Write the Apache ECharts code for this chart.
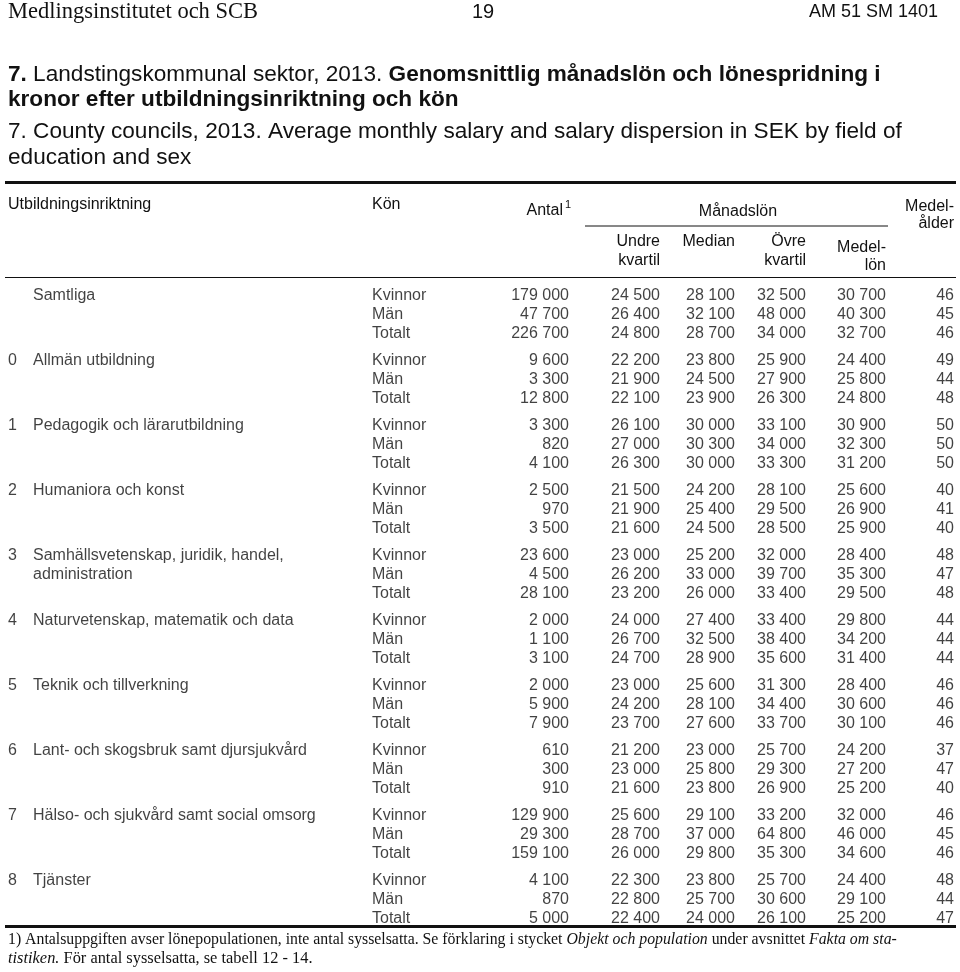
<!DOCTYPE html>
<html>
<head>
<meta charset="utf-8">
<script src="https://cdn.jsdelivr.net/npm/echarts@6/dist/echarts.min.js"></script>
<style>
html, body { margin: 0; padding: 0; background: #fff; }
#chart { width: 960px; height: 972px; }
</style>
</head>
<body>
<div id="chart"></div>
<script>
// ── Data ─────────────────────────────────────────────────────────
const FIELD_NO = ['', '0', '1', '2', '3', '4', '5', '6', '7', '8']
const FIELD_NAME = [
  'Samtliga',
  'Allmän utbildning',
  'Pedagogik och lärarutbildning',
  'Humaniora och konst',
  'Samhällsvetenskap, juridik, handel,\nadministration',
  'Naturvetenskap, matematik och data',
  'Teknik och tillverkning',
  'Lant- och skogsbruk samt djursjukvård',
  'Hälso- och sjukvård samt social omsorg',
  'Tjänster',
]
const SEX = ['Kvinnor', 'Män', 'Totalt']

// one value per row: Kvinnor, Män, Totalt for each field in order
const ANTAL = [
  179000, 47700, 226700,  9600, 3300, 12800,  3300, 820, 4100,  2500, 970, 3500,
  23600, 4500, 28100,  2000, 1100, 3100,  2000, 5900, 7900,  610, 300, 910,
  129900, 29300, 159100,  4100, 870, 5000,
]
const UNDRE = [
  24500, 26400, 24800,  22200, 21900, 22100,  26100, 27000, 26300,  21500, 21900, 21600,
  23000, 26200, 23200,  24000, 26700, 24700,  23000, 24200, 23700,  21200, 23000, 21600,
  25600, 28700, 26000,  22300, 22800, 22400,
]
const MEDIAN = [
  28100, 32100, 28700,  23800, 24500, 23900,  30000, 30300, 30000,  24200, 25400, 24500,
  25200, 33000, 26000,  27400, 32500, 28900,  25600, 28100, 27600,  23000, 25800, 23800,
  29100, 37000, 29800,  23800, 25700, 24000,
]
const OVRE = [
  32500, 48000, 34000,  25900, 27900, 26300,  33100, 34000, 33300,  28100, 29500, 28500,
  32000, 39700, 33400,  33400, 38400, 35600,  31300, 34400, 33700,  25700, 29300, 26900,
  33200, 64800, 35300,  25700, 30600, 26100,
]
const MEDELLON = [
  30700, 40300, 32700,  24400, 25800, 24800,  30900, 32300, 31200,  25600, 26900, 25900,
  28400, 35300, 29500,  29800, 34200, 31400,  28400, 30600, 30100,  24200, 27200, 25200,
  32000, 46000, 34600,  24400, 29100, 25200,
]
const ALDER = [
  46, 45, 46,  49, 44, 48,  50, 50, 50,  40, 41, 40,
  48, 47, 48,  44, 44, 44,  46, 46, 46,  37, 47, 40,
  46, 45, 46,  48, 44, 47,
]

// ── Layout ───────────────────────────────────────────────────────
const SANS  = '"Liberation Sans", Arial, sans-serif'
const SERIF = '"Liberation Serif", "Times New Roman", serif'
const INK   = '#111'
const CELL_FONT = 16

const TOP_Y       = 296
const GROUP_PITCH = 65
const LINE_STEP   = 19

// anchor of each column (left edge for text, right edge for numbers)
const X_NO = 8, X_NAME = 33, X_SEX = 372
const X_ANTAL = 569, X_UNDRE = 660, X_MEDIAN = 735, X_OVRE = 806, X_MEDELLON = 886, X_ALDER = 954

const rowY = (g, line) => TOP_Y + g * GROUP_PITCH + line * LINE_STEP
const fmt  = v => String(v).replace(/\B(?=(\d{3})+(?!\d))/g, ' ')

function cellSeries(x, texts, ys, alignRight, extraLabel) {
  return {
    type: 'scatter',
    silent: true,
    symbolSize: 0,
    animation: false,
    data: texts.map((t, k) => ({ value: [x, ys[k]], label: { formatter: t } })),
    label: Object.assign({
      show: true,
      position: alignRight ? 'left' : 'right',
      distance: 0,
      color: INK,
      fontFamily: SANS,
      fontSize: CELL_FONT,
    }, extraLabel || {}),
  }
}

const allRows = []
for (let g = 0; g < FIELD_NAME.length; g++) for (let l = 0; l < 3; l++) allRows.push(rowY(g, l))
const groupRows = FIELD_NAME.map((_, g) => rowY(g, 0))

const series = [
  cellSeries(X_NO, FIELD_NO, groupRows, false),
  cellSeries(X_NAME, FIELD_NAME, groupRows, false, {
    verticalAlign: 'top', offset: [0, -LINE_STEP / 2], lineHeight: LINE_STEP,
  }),
  cellSeries(X_SEX, allRows.map((_, i) => SEX[i % 3]), allRows, false),
  cellSeries(X_ANTAL, ANTAL.map(fmt), allRows, true),
  cellSeries(X_UNDRE, UNDRE.map(fmt), allRows, true),
  cellSeries(X_MEDIAN, MEDIAN.map(fmt), allRows, true),
  cellSeries(X_OVRE, OVRE.map(fmt), allRows, true),
  cellSeries(X_MEDELLON, MEDELLON.map(fmt), allRows, true),
  cellSeries(X_ALDER, ALDER.map(String), allRows, true),
]

// ── Static text and rules ────────────────────────────────────────
const txt = (x, y, text, opt) => ({
  type: 'text', x, y, silent: true,
  style: Object.assign({
    text, fill: INK, fontFamily: SANS, fontSize: CELL_FONT,
    align: 'left', verticalAlign: 'middle',
  }, opt || {}),
})
const rule = (x1, y, x2, w) => ({
  type: 'line', silent: true,
  shape: { x1, y1: y, x2, y2: y },
  style: { stroke: INK, lineWidth: w },
})

const TITLE_SIZE = 22.6
const titleRich = {
  b: { fontWeight: 'bold', fontFamily: SANS, fontSize: TITLE_SIZE, fill: INK },
  r: { fontFamily: SANS, fontSize: TITLE_SIZE, fill: INK },
}
const noteRich = (size) => ({
  r: { fontFamily: SERIF, fontSize: size, fill: INK },
  i: { fontFamily: SERIF, fontSize: size, fill: INK, fontStyle: 'italic' },
})

const graphic = [
  // page header
  txt(8, 12, 'Medlingsinstitutet och SCB', { fontFamily: SERIF, fontSize: 22.5 }),
  txt(483, 12, '19', { fontSize: 20, align: 'center' }),
  txt(938, 12, 'AM 51 SM 1401', { fontSize: 18, align: 'right' }),

  // titles
  txt(8, 75, '{b|7.}{r| Landstingskommunal sektor, 2013. }{b|Genomsnittlig månadslön och lönespridning i}',
    { rich: titleRich, fontSize: TITLE_SIZE }),
  txt(8, 100, 'kronor efter utbildningsinriktning och kön',
    { fontWeight: 'bold', fontSize: TITLE_SIZE }),
  txt(8, 132, '7. County councils, 2013. Average monthly salary and salary dispersion in SEK by field of',
    { fontSize: TITLE_SIZE }),
  txt(8, 158, 'education and sex', { fontSize: TITLE_SIZE }),

  // table header
  rule(5, 182.5, 956, 3),
  txt(8, 205, 'Utbildningsinriktning'),
  txt(372, 205, 'Kön'),
  txt(563, 211, 'Antal', { align: 'right' }),
  txt(565, 205, '1', { fontSize: 11 }),
  txt(738, 212, 'Månadslön', { align: 'center' }),
  rule(585, 226, 888, 1),
  txt(954, 207, 'Medel-', { align: 'right' }),
  txt(954, 224, 'ålder', { align: 'right' }),
  txt(660, 242, 'Undre', { align: 'right' }),
  txt(660, 261, 'kvartil', { align: 'right' }),
  txt(735, 242, 'Median', { align: 'right' }),
  txt(806, 242, 'Övre', { align: 'right' }),
  txt(806, 261, 'kvartil', { align: 'right' }),
  txt(886, 248, 'Medel-', { align: 'right' }),
  txt(886, 266, 'lön', { align: 'right' }),
  rule(5, 277.5, 956, 1.2),

  // bottom rule and footnote
  rule(5, 926.5, 956, 3),
  txt(8, 940, '{r|1) Antalsuppgiften avser lönepopulationen, inte antal sysselsatta. Se förklaring i stycket }{i|Objekt och population}{r| under avsnittet }{i|Fakta om sta-}',
    { rich: noteRich(15.8), fontFamily: SERIF }),
  txt(8, 959, '{i|tistiken.}{r| För antal sysselsatta, se tabell 12 - 14.}',
    { rich: noteRich(16.4), fontFamily: SERIF }),
]

// ── Chart ────────────────────────────────────────────────────────
const chart = echarts.init(document.getElementById('chart'), null, { renderer: 'canvas' })
chart.setOption({
  animation: false,
  backgroundColor: '#fff',
  grid: { left: 0, right: 0, top: 0, bottom: 0 },
  xAxis: { type: 'value', min: 0, max: 960, show: false },
  yAxis: { type: 'value', min: 0, max: 972, inverse: true, show: false },
  graphic,
  series,
})
</script>
</body>
</html>
